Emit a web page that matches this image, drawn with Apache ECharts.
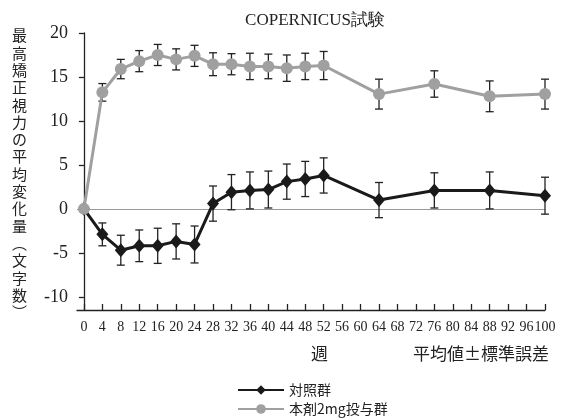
<!DOCTYPE html>
<html><head><meta charset="utf-8">
<script src="https://cdn.jsdelivr.net/npm/echarts@6/dist/echarts.min.js"></script>
<style>html,body{margin:0;padding:0;background:#fff}#c{width:568px;height:419px}</style>
</head><body><div id="c"></div>
<script>
const weeks = [0,4,8,12,16,20,24,28,32,36,40,44,48,52,64,76,88,100];
const controlMean = [0,-2.9,-4.7,-4.2,-4.2,-3.7,-4.05,0.6,1.9,2.1,2.2,3.1,3.4,3.8,1.0,2.1,2.1,1.5];
const controlSE   = [0,1.3,1.7,1.8,2.0,2.0,2.1,2.0,2.0,2.1,2.1,2.0,2.0,2.0,2.0,2.0,2.1,2.1];
const drugMean = [0,13.25,15.9,16.8,17.5,17.0,17.4,16.45,16.45,16.2,16.2,16.0,16.2,16.3,13.05,14.2,12.8,13.05];
const drugSE   = [0,1.0,1.1,1.2,1.2,1.2,1.2,1.3,1.2,1.5,1.4,1.5,1.5,1.6,1.7,1.5,1.75,1.7];
const xTicks = [0,4,8,12,16,20,24,28,32,36,40,44,48,52,56,60,64,68,72,76,80,84,88,92,96,100];
const yTicks = [-10,-5,0,5,10,15,20];
const seriesNames = ['対照群','本剤2mg投与群'];
const yTitle = '最高矯正視力の平均変化量︵文字数︶';

const serif = 'Liberation Serif';
const cjk = 'Noto Sans CJK JP';

function errData(mean, se){ return weeks.map((w,i)=>[w, mean[i]-se[i], mean[i]+se[i]]).filter((d,i)=>se[i]>0); }
function errRender(color){
  return function(params, api){
    const x = api.value(0);
    const lo = api.coord([x, api.value(1)]);
    const hi = api.coord([x, api.value(2)]);
    const cap = 4;
    const st = {stroke: color, lineWidth: 1.3};
    return {type:'group', children:[
      {type:'line', shape:{x1:lo[0],y1:lo[1],x2:hi[0],y2:hi[1]}, style:st},
      {type:'line', shape:{x1:lo[0]-cap,y1:lo[1],x2:lo[0]+cap,y2:lo[1]}, style:st},
      {type:'line', shape:{x1:hi[0]-cap,y1:hi[1],x2:hi[0]+cap,y2:hi[1]}, style:st}
    ]};
  };
}

const legendBase = {orient:'horizontal', itemWidth:46, itemHeight:12, padding:0,
    textStyle:{fontFamily:cjk, fontSize:14, color:'#222'}};

const chart = echarts.init(document.getElementById('c'), null, {renderer:'canvas'});
chart.setOption({
  animation:false,
  backgroundColor:'#fff',
  title:{text:'COPERNICUS試験', left:310, top:7, textAlign:'center',
    textStyle:{fontFamily:serif, fontSize:17, fontWeight:'normal', color:'#222'}},
  grid:{left:77, right:23, top:33, bottom:109},
  legend:[
    Object.assign({}, legendBase, {left:237, top:383, data:[seriesNames[0]]}),
    Object.assign({}, legendBase, {left:237, top:402, data:[seriesNames[1]]})
  ],
  xAxis:{type:'value', min:-1.5, max:100,
    axisLine:{show:true, onZero:false, lineStyle:{color:'#222', width:1.3}},
    axisTick:{show:true, inside:true, length:6, customValues:xTicks, lineStyle:{color:'#222', width:1.3}},
    axisLabel:{customValues:xTicks, hideOverlap:false, showMaxLabel:true, showMinLabel:true,
      fontFamily:serif, fontSize:14, color:'#222', margin:10},
    splitLine:{show:false}},
  yAxis:{type:'value', min:-11.5, max:20,
    axisLine:{show:true, lineStyle:{color:'#222', width:1.3}},
    axisTick:{show:true, length:5, customValues:yTicks, lineStyle:{color:'#222', width:1.3}},
    axisLabel:{customValues:yTicks, fontFamily:serif, fontSize:18, color:'#222', margin:9},
    splitLine:{show:false}},
  graphic:[
    {type:'text', left:12, top:27, style:{text:yTitle.split('').join('\n'), font:'15px "Noto Sans CJK JP"', lineHeight:17.3, fill:'#222', align:'center'}},
    {type:'text', left:311, top:345, style:{text:'週', font:'17px "Noto Sans CJK JP"', fill:'#222'}},
    {type:'text', left:413, top:345, style:{text:'平均値±標準誤差', font:'17px "Noto Sans CJK JP"', fill:'#222'}}
  ],
  series:[
    {type:'custom', name:'err1', renderItem:errRender('#222'), data:errData(controlMean, controlSE), z:1, silent:true},
    {type:'custom', name:'err2', renderItem:errRender('#222'), data:errData(drugMean, drugSE), z:1, silent:true},
    {type:'line', name:seriesNames[0], data:weeks.map((w,i)=>[w,controlMean[i]]), z:3,
      symbol:'diamond', symbolSize:[12,14], itemStyle:{color:'#1a1a1a'},
      lineStyle:{color:'#1a1a1a', width:3},
      markLine:{silent:true, symbol:'none', label:{show:false}, lineStyle:{color:'#999', width:1, type:'solid'}, data:[{yAxis:0}], z:0}},
    {type:'line', name:seriesNames[1], data:weeks.map((w,i)=>[w,drugMean[i]]), z:4,
      symbol:'circle', symbolSize:12, itemStyle:{color:'#a0a0a0'},
      lineStyle:{color:'#a0a0a0', width:3}}
  ]
});
</script></body></html>
